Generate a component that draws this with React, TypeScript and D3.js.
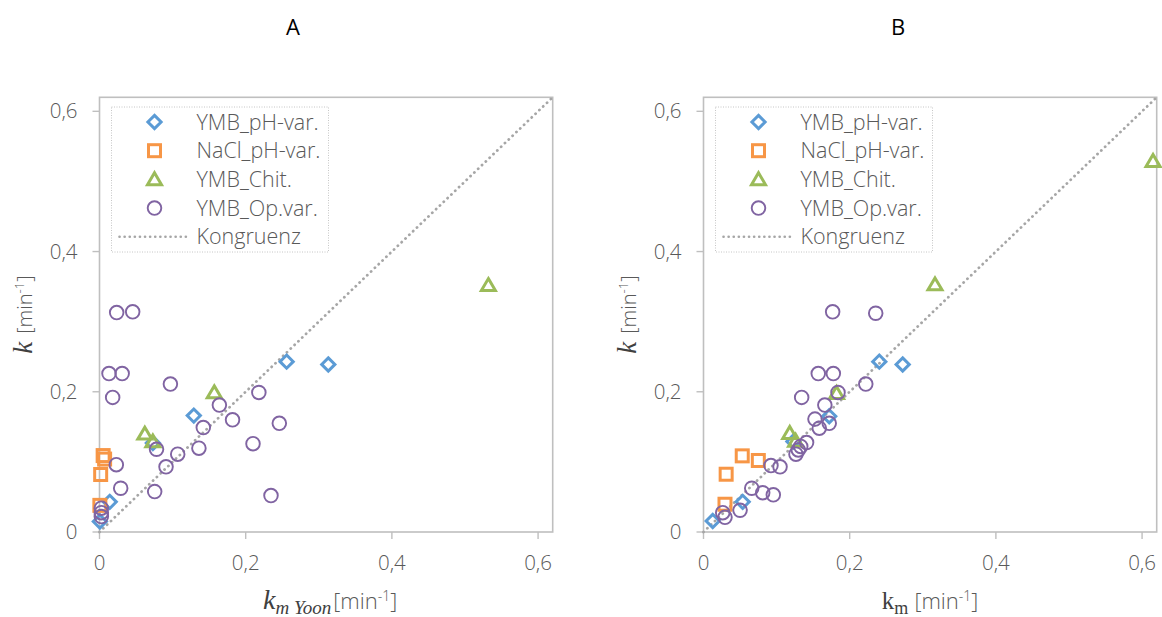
import React from "react";
import * as d3 from "d3";

type Pt = [number, number];

// ---------- data ----------
const tickValues = [0, 0.2, 0.4, 0.6];
const tickLabels = ["0", "0,2", "0,4", "0,6"];
const axisMax = 0.62;
const seriesNames = ["YMB_pH-var.", "NaCl_pH-var.", "YMB_Chit.", "YMB_Op.var.", "Kongruenz"];
const congruence: Pt[] = [[0, 0], [0.62, 0.62]];

// Panel A: k vs k_m Yoon
const aPhVar: Pt[] = [[0.256, 0.243], [0.313, 0.239], [0.129, 0.166], [0.073, 0.127], [0.014, 0.043], [0.0005, 0.015]];
const aNaCl: Pt[] = [[0.005, 0.109], [0.007, 0.104], [0.0016, 0.082], [0.0005, 0.038]];
const aChit: Pt[] = [[0.532, 0.352], [0.157, 0.199], [0.062, 0.14], [0.073, 0.129]];
const aOpVar: Pt[] = [
  [0.0235, 0.313], [0.0454, 0.314], [0.013, 0.226], [0.031, 0.226], [0.097, 0.211], [0.018, 0.192],
  [0.218, 0.199], [0.164, 0.181], [0.182, 0.16], [0.142, 0.149], [0.246, 0.155], [0.21, 0.126],
  [0.136, 0.1196], [0.078, 0.118], [0.107, 0.111], [0.091, 0.093], [0.023, 0.096], [0.029, 0.0624],
  [0.0755, 0.0576], [0.2346, 0.052], [0.0025, 0.034], [0.0025, 0.0276], [0.0025, 0.022],
];

// Panel B: k vs k_m
const bPhVar: Pt[] = [[0.2405, 0.243], [0.2725, 0.239], [0.172, 0.165], [0.123, 0.129], [0.0536, 0.043], [0.0126, 0.0157]];
const bNaCl: Pt[] = [[0.053, 0.1086], [0.075, 0.102], [0.031, 0.0824], [0.0294, 0.0396]];
const bChit: Pt[] = [[0.615, 0.529], [0.3167, 0.353], [0.182, 0.198], [0.118, 0.141], [0.126, 0.13]];
const bOpVar: Pt[] = [
  [0.1767, 0.314], [0.2356, 0.312], [0.157, 0.226], [0.1776, 0.226], [0.222, 0.211], [0.1343, 0.192],
  [0.184, 0.199], [0.166, 0.181], [0.1525, 0.161], [0.1584, 0.148], [0.172, 0.155], [0.141, 0.1276],
  [0.133, 0.122], [0.1297, 0.117], [0.1265, 0.111], [0.0923, 0.0947], [0.1047, 0.093], [0.066, 0.0624],
  [0.081, 0.056], [0.0955, 0.053], [0.05, 0.031], [0.0263, 0.0276], [0.0294, 0.021],
];

// ---------- style ----------
const C_BLUE = "#5B9BD5";
const C_ORANGE = "#F79646";
const C_GREEN = "#9BBB59";
const C_PURPLE = "#8064A2";
const C_AXIS = "#BFBFBF";
const C_TEXT = "#595959";
const C_LINE = "#A6A6A6";
const SANS = "'Open Sans', 'Noto Sans', sans-serif";
const SERIF = "'Liberation Serif', 'DejaVu Serif', serif";
const FW = 300;

type Kind = "diamond" | "square" | "triangle" | "circle";

function Marker({ kind, x, y }: { kind: Kind; x: number; y: number }) {
  if (kind === "diamond") {
    const r = 6.6;
    return <path d={`M${x},${y - r}L${x + r},${y}L${x},${y + r}L${x - r},${y}Z`} fill="none" stroke={C_BLUE} strokeWidth={3} />;
  }
  if (kind === "square") {
    const s = 6;
    return <rect x={x - s} y={y - s} width={2 * s} height={2 * s} fill="none" stroke={C_ORANGE} strokeWidth={3} />;
  }
  if (kind === "triangle") {
    const h = 6.6;
    return <path d={`M${x},${y - h}L${x + 7},${y + h * 0.8}L${x - 7},${y + h * 0.8}Z`} fill="none" stroke={C_GREEN} strokeWidth={3} strokeLinejoin="miter" />;
  }
  return <circle cx={x} cy={y} r={6.8} fill="none" stroke={C_PURPLE} strokeWidth={1.9} />;
}

interface PanelProps {
  left: number;
  title: string;
  titleX: number;
  phVar: Pt[];
  nacl: Pt[];
  chit: Pt[];
  opVar: Pt[];
  xLabel: "yoon" | "km";
}

const TOP = 97.3;
const BOTTOM = 532;
const WIDTH = 453.2;

function Panel({ left, title, titleX, phVar, nacl, chit, opVar, xLabel }: PanelProps) {
  const x = d3.scaleLinear().domain([0, axisMax]).range([left, left + WIDTH]);
  const y = d3.scaleLinear().domain([0, axisMax]).range([BOTTOM, TOP]);
  const line = d3.line<Pt>().x((d) => x(d[0])).y((d) => y(d[1]));
  const lgX = left + 12;
  const lgY = 107;
  const rowH = 28.7;
  const kinds: Kind[] = ["diamond", "square", "triangle", "circle"];
  const midX = left + WIDTH / 2;
  const midY = (TOP + BOTTOM) / 2;
  return (
    <g>
      <text x={titleX} y={35} textAnchor="middle" fontFamily={SANS} fontWeight={400} fontSize={22} fill="#000">{title}</text>
      {/* plot border */}
      <rect x={left} y={TOP} width={WIDTH} height={BOTTOM - TOP} fill="none" stroke={C_AXIS} strokeWidth={1.6} />
      {/* ticks */}
      {tickValues.map((t, i) => (
        <g key={"yt" + i}>
          <line x1={left - 7} x2={left} y1={y(t)} y2={y(t)} stroke={C_AXIS} strokeWidth={1.4} />
          <text x={left - 22} y={y(t) + 7} textAnchor="end" fontFamily={SANS} fontWeight={FW} fontSize={20.5} fill={C_TEXT}>{tickLabels[i]}</text>
        </g>
      ))}
      {tickValues.map((t, i) => (
        <g key={"xt" + i}>
          <line x1={x(t)} x2={x(t)} y1={BOTTOM} y2={BOTTOM + 7} stroke={C_AXIS} strokeWidth={1.4} />
          <text x={x(t)} y={570} textAnchor="middle" fontFamily={SANS} fontWeight={FW} fontSize={20.5} fill={C_TEXT}>{tickLabels[i]}</text>
        </g>
      ))}
      {/* congruence line */}
      <path d={line(congruence) || ""} fill="none" stroke={C_LINE} strokeWidth={2.8} strokeDasharray="0.1 5.2" strokeLinecap="round" />
      {/* series */}
      {phVar.map((d, i) => <Marker key={"p" + i} kind="diamond" x={x(d[0])} y={y(d[1])} />)}
      {nacl.map((d, i) => <Marker key={"n" + i} kind="square" x={x(d[0])} y={y(d[1])} />)}
      {chit.map((d, i) => <Marker key={"c" + i} kind="triangle" x={x(d[0])} y={y(d[1])} />)}
      {opVar.map((d, i) => <Marker key={"o" + i} kind="circle" x={x(d[0])} y={y(d[1])} />)}
      {/* legend */}
      <rect x={lgX} y={lgY} width={217} height={145} fill="#fff" stroke={C_AXIS} strokeWidth={0.9} strokeDasharray="1 1.5" />
      {seriesNames.map((name, i) => {
        const cy = lgY + 15 + i * rowH;
        return (
          <g key={"lg" + i}>
            {i < 4 ? (
              <Marker kind={kinds[i]} x={lgX + 43} y={cy} />
            ) : (
              <line x1={lgX + 8} x2={lgX + 75} y1={cy} y2={cy} stroke={C_LINE} strokeWidth={2.6} strokeDasharray="0.1 5" strokeLinecap="round" />
            )}
            <text x={lgX + 85} y={cy + 7.5} fontFamily={SANS} fontWeight={FW} fontSize={21.5} fill={C_TEXT}>{name}</text>
          </g>
        );
      })}
      {/* y axis label */}
      <text transform={`translate(${left - 68},${midY}) rotate(-90)`} textAnchor="middle" fill={C_TEXT}>
        <tspan fontFamily={SERIF} fontStyle="italic" fontSize={27} fill="#404040">k</tspan>
        <tspan dx={8} fontFamily={SANS} fontWeight={FW} fontSize={20}>[min</tspan>
        <tspan dy={-8} fontFamily={SANS} fontWeight={FW} fontSize={13}>-1</tspan>
        <tspan dy={8} fontFamily={SANS} fontWeight={FW} fontSize={20}>]</tspan>
      </text>
      {/* x axis label */}
      {xLabel === "yoon" ? (
        <text x={midX + 4} y={609} textAnchor="middle" fill={C_TEXT}>
          <tspan fontFamily={SERIF} fontStyle="italic" fontSize={28} fill="#404040">k</tspan>
          <tspan dy={5} fontFamily={SERIF} fontStyle="italic" fontSize={19} fill="#404040">m Yoon</tspan>
          <tspan dy={-5} dx={2} fontFamily={SANS} fontWeight={FW} fontSize={22}>[min</tspan>
          <tspan dy={-8} fontFamily={SANS} fontWeight={FW} fontSize={14}>-1</tspan>
          <tspan dy={8} fontFamily={SANS} fontWeight={FW} fontSize={22}>]</tspan>
        </text>
      ) : (
        <text x={midX} y={609} textAnchor="middle" fill={C_TEXT}>
          <tspan fontFamily={SERIF} fontSize={25} fill="#404040">k</tspan>
          <tspan dy={5} fontFamily={SERIF} fontSize={18} fill="#404040">m</tspan>
          <tspan dy={-5} dx={6} fontFamily={SANS} fontWeight={FW} fontSize={22}>[min</tspan>
          <tspan dy={-8} fontFamily={SANS} fontWeight={FW} fontSize={14}>-1</tspan>
          <tspan dy={8} fontFamily={SANS} fontWeight={FW} fontSize={22}>]</tspan>
        </text>
      )}
    </g>
  );
}

export default function App() {
  return (
    <svg width={1162} height={617} style={{ position: "absolute", left: 0, top: 0, background: "#fff" }}>
      <rect x={0} y={0} width={1162} height={617} fill="#fff" />
      <Panel left={99.5} title="A" titleX={293} phVar={aPhVar} nacl={aNaCl} chit={aChit} opVar={aOpVar} xLabel="yoon" />
      <Panel left={703.5} title="B" titleX={898} phVar={bPhVar} nacl={bNaCl} chit={bChit} opVar={bOpVar} xLabel="km" />
    </svg>
  );
}
